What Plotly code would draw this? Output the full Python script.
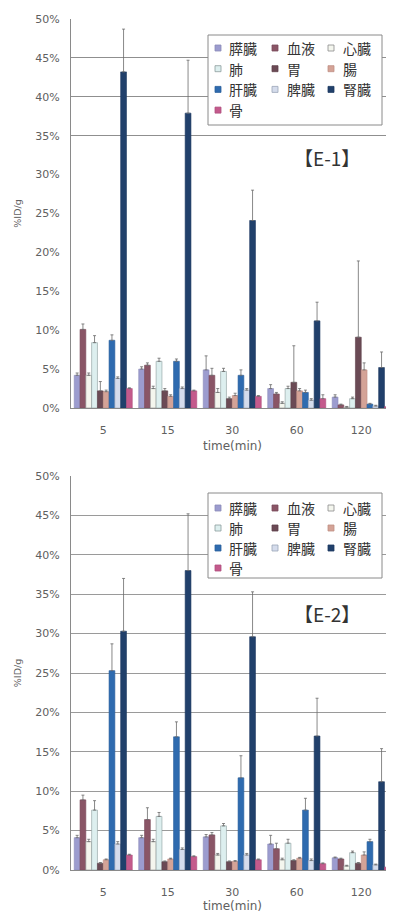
import plotly.graph_objects as go

times = ["5", "15", "30", "60", "120"]
organs = ["膵臓", "血液", "心臓", "肺", "胃", "腸", "肝臓", "脾臓", "腎臓", "骨"]
colors = ["#9C9CCF", "#8A5566", "#F4F6EE", "#DDEFEF", "#6B4A55",
          "#D4A397", "#2F6BAF", "#D5DCEC", "#21406B", "#C45A8C"]
outlines = ["#8A8AB8", "#7A4A5A", "#8C8C8C", "#8C9C9C", "#5E4049",
            "#BF8F84", "#2A5F9C", "#9AA4B8", "#1C3860", "#B04F7D"]
panel_labels = ["【E-1】", "【E-2】"]

# E-1 values (%ID/g) and upper error
e1_vals = {
    "膵臓": [4.2, 5.0, 4.9, 2.5, 1.4],
    "血液": [10.1, 5.5, 4.2, 1.8, 0.4],
    "心臓": [4.2, 2.5, 2.0, 0.6, 0.1],
    "肺":   [8.4, 6.0, 4.7, 2.5, 1.2],
    "胃":   [2.2, 2.2, 1.2, 3.3, 9.1],
    "腸":   [2.1, 1.5, 1.6, 2.2, 4.9],
    "肝臓": [8.7, 6.0, 4.2, 2.0, 0.5],
    "脾臓": [3.8, 2.5, 2.3, 1.0, 0.25],
    "腎臓": [43.2, 37.9, 24.1, 11.2, 5.2],
    "骨":   [2.5, 2.2, 1.5, 1.2, 0.15],
}
e1_err = {
    "膵臓": [0.3, 0.3, 1.8, 0.5, 0.3],
    "血液": [0.7, 0.3, 0.9, 0.2, 0.1],
    "心臓": [0.3, 0.3, 0.5, 0.2, 0.1],
    "肺":   [0.9, 0.4, 0.4, 0.3, 0.2],
    "胃":   [1.2, 0.3, 0.2, 4.7, 9.8],
    "腸":   [0.2, 0.2, 0.3, 0.3, 0.9],
    "肝臓": [0.7, 0.3, 0.7, 0.3, 0.1],
    "脾臓": [0.2, 0.2, 0.2, 0.2, 0.1],
    "腎臓": [5.5, 6.8, 3.9, 2.4, 2.0],
    "骨":   [0.1, 0.1, 0.1, 0.5, 0.05],
}
# E-2 values (%ID/g) and upper error
e2_vals = {
    "膵臓": [4.1, 4.1, 4.2, 3.3, 1.55],
    "血液": [8.9, 6.4, 4.45, 2.7, 1.4],
    "心臓": [3.6, 3.6, 1.9, 1.3, 0.5],
    "肺":   [7.6, 6.8, 5.6, 3.4, 2.2],
    "胃":   [0.85, 1.05, 1.05, 1.2, 0.85],
    "腸":   [1.3, 1.4, 1.1, 1.5, 1.9],
    "肝臓": [25.3, 16.9, 11.7, 7.6, 3.6],
    "脾臓": [3.3, 2.6, 1.9, 1.2, 0.65],
    "腎臓": [30.3, 38.0, 29.6, 17.0, 11.2],
    "骨":   [1.9, 1.7, 1.3, 0.8, 0.35],
}
e2_err = {
    "膵臓": [0.3, 0.3, 0.3, 1.1, 0.1],
    "血液": [0.6, 1.5, 0.3, 0.7, 0.1],
    "心臓": [0.3, 0.3, 0.2, 0.2, 0.1],
    "肺":   [1.2, 0.5, 0.3, 0.5, 0.2],
    "胃":   [0.1, 0.1, 0.1, 0.1, 0.1],
    "腸":   [0.1, 0.1, 0.1, 0.1, 0.4],
    "肝臓": [3.4, 1.9, 2.8, 1.5, 0.3],
    "脾臓": [0.3, 0.2, 0.2, 0.2, 0.1],
    "腎臓": [6.7, 7.2, 5.7, 4.8, 4.2],
    "骨":   [0.1, 0.1, 0.1, 0.1, 0.05],
}

# ---- layout geometry (page has an 8px body margin) ----
OFF = 8
FIG_W, FIG_H = 386, 905
ML, MT, MB, MR = 63, 11, 43, 0
PW = FIG_W - ML - MR
PH = FIG_H - MT - MB


def px(xpage):
    return (xpage - OFF - ML) / PW


def py(ypage):
    return (FIG_H - MB - (ypage - OFF)) / PH


fig = go.Figure()

for xa, ya, vals, errs in [("x", "y", e1_vals, e1_err), ("x2", "y2", e2_vals, e2_err)]:
    for i, org in enumerate(organs):
        fig.add_trace(go.Bar(
            x=times, y=vals[org], xaxis=xa, yaxis=ya, name=org,
            showlegend=False,
            marker=dict(color=colors[i], line=dict(color=outlines[i], width=0.6)),
            error_y=dict(type="data", array=errs[org], arrayminus=[0] * 5,
                         symmetric=False, color="#6a6a6a", thickness=0.8, width=1.5),
        ))

tickfont = dict(family="DejaVu Sans", size=11, color="#606060")
xcommon = dict(showgrid=False, showline=True, linecolor="#8a8a8a", linewidth=1,
               ticks="", tickfont=tickfont, range=[-0.5, 4.508],
               ticklabelstandoff=12, automargin=False,
               title=dict(text="time(min)", font=dict(family="DejaVu Sans", size=12, color="#606060"),
                          standoff=5))
ycommon = dict(range=[0, 50], dtick=5, ticksuffix="%", showline=True, linecolor="#8a8a8a",
               linewidth=1, tickfont=tickfont, ticks="", ticklabelstandoff=8,
               zeroline=False, automargin=False,
               title=dict(text="%ID/g", font=dict(family="DejaVu Sans", size=9.5, color="#606060"),
                          standoff=12))

shapes = []
annotations = []
# legend boxes (page coords of box edges) and row positions
legend_specs = [
    dict(box=(208, 35, 382, 125), row0=48, dy=20.7),
    dict(box=(208, 493, 382, 578), row0=508, dy=20.0),
]
col_marker_x = [218, 275, 331]
col_text_x = [227, 285, 341]
for spec in legend_specs:
    bx0, by0, bx1, by1 = spec["box"]
    shapes.append(dict(type="rect", xref="paper", yref="paper", layer="above",
                       x0=px(bx0), x1=px(bx1), y0=py(by1), y1=py(by0),
                       fillcolor="white", line=dict(color="#8a8a8a", width=1)))
    for i, org in enumerate(organs):
        r, c = divmod(i, 3)
        ry = spec["row0"] + r * spec["dy"]
        mx = col_marker_x[c]
        shapes.append(dict(type="rect", xref="paper", yref="paper", layer="above",
                           x0=px(mx - 3), x1=px(mx + 3), y0=py(ry + 3), y1=py(ry - 3),
                           fillcolor=colors[i], line=dict(color=outlines[i], width=0.8)))
        annotations.append(dict(text=org, xref="paper", yref="paper",
                                x=px(col_text_x[c]), y=py(ry), xanchor="left", yanchor="middle",
                                showarrow=False,
                                font=dict(family="Noto Sans CJK JP", size=14, color="#333333")))

for lab, (xp, yp) in zip(panel_labels, [(327, 157), (327, 613)]):
    annotations.append(dict(text=lab, xref="paper", yref="paper", x=px(xp), y=py(yp),
                            xanchor="center", yanchor="middle", showarrow=False,
                            font=dict(family="Noto Sans CJK JP", size=19, color="#333333")))

top_dom = [py(408), py(19)]
bot_dom = [py(870), py(476)]

fig.update_layout(
    width=FIG_W, height=FIG_H,
    margin=dict(l=ML, r=MR, t=MT, b=MB),
    paper_bgcolor="white", plot_bgcolor="white",
    barmode="group", bargap=0.1, bargroupgap=0,
    showlegend=False,
    xaxis=dict(anchor="y", domain=[0, 1], **xcommon),
    xaxis2=dict(anchor="y2", domain=[0, 1], **xcommon),
    yaxis=dict(anchor="x", domain=[max(0, top_dom[0]), min(1, top_dom[1])], showgrid=False,
               minor=dict(tickvals=[35, 40, 45, 50], showgrid=True, gridcolor="#8f8f8f",
                          gridwidth=1, ticks=""),
               **ycommon),
    yaxis2=dict(anchor="x2", domain=[max(0, bot_dom[0]), min(1, bot_dom[1])], showgrid=True,
                gridcolor="#9a9a9a", gridwidth=1, **ycommon),
    shapes=shapes,
    annotations=annotations,
)

fig.write_html("out.html")
